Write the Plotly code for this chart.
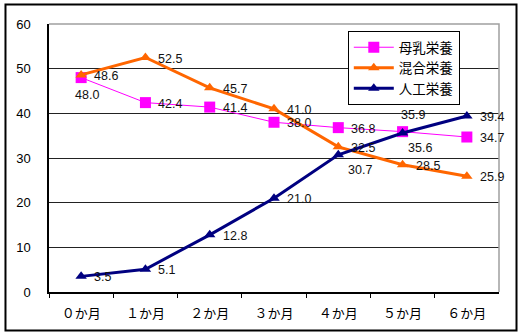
import plotly.graph_objects as go

# Feeding method ratios (%) by infant age
months = ["０か月", "１か月", "２か月", "３か月", "４か月", "５か月", "６か月"]
breast = [48.0, 42.4, 41.4, 38.0, 36.8, 35.9, 34.7]   # 母乳栄養
mixed = [48.6, 52.5, 45.7, 41.0, 32.5, 28.5, 25.9]    # 混合栄養
formula = [3.5, 5.1, 12.8, 21.0, 30.7, 35.6, 39.4]    # 人工栄養
y_ticks = [0, 10, 20, 30, 40, 50, 60]

NUM_FONT = "Liberation Sans, Arial, Noto Sans CJK JP"
JP_FONT = "Noto Sans CJK JP, Liberation Sans"

xs = list(range(len(months)))

fig = go.Figure()
fig.add_trace(go.Scatter(
    x=xs, y=breast, name="母乳栄養", mode="lines+markers",
    line=dict(color="#FF00FF", width=1),
    marker=dict(symbol="square", size=11, color="#FF00FF"),
))
fig.add_trace(go.Scatter(
    x=xs, y=mixed, name="混合栄養", mode="lines+markers",
    line=dict(color="#FF6600", width=3),
    marker=dict(symbol="triangle-up", size=10, color="#FF6600"),
))
fig.add_trace(go.Scatter(
    x=xs, y=formula, name="人工栄養", mode="lines+markers",
    line=dict(color="#000080", width=3),
    marker=dict(symbol="triangle-up", size=10, color="#000080"),
))

# Value labels: default sits to the right of the marker; a few are moved
# above/below to avoid overlapping neighbouring series.
special = {
    ("b", 0): dict(xanchor="center", xshift=6, yshift=-17),
    ("b", 5): dict(xanchor="center", xshift=10, yshift=17),
    ("f", 4): dict(xanchor="center", xshift=22, yshift=-15),
    ("f", 5): dict(xanchor="center", xshift=17, yshift=-15),
}
annotations = []
for key, series in (("b", breast), ("m", mixed), ("f", formula)):
    for i, v in enumerate(series):
        pos = special.get((key, i), dict(xanchor="left", xshift=11, yshift=-1))
        annotations.append(dict(
            x=i, y=v, xref="x", yref="y", text=f"{v:.1f}", showarrow=False,
            font=dict(family=NUM_FONT, size=12.5, color="#111"),
            yanchor="middle", **pos,
        ))

shapes = [
    # grey plot-area border on top and right
    dict(type="path", xref="paper", yref="paper",
         path="M 0,1 L 1,1 L 1,0", line=dict(color="#A0A0A0", width=1.5),
         layer="above"),
    # outer chart frame
    dict(type="rect", xref="paper", yref="paper",
         x0=-0.0967, x1=1.0389, y0=-0.1437, y1=1.0728,
         line=dict(color="black", width=2), layer="above"),
]

fig.update_layout(
    width=523, height=335,
    margin=dict(l=49, r=24, t=24, b=43),
    paper_bgcolor="white", plot_bgcolor="white",
    showlegend=True,
    legend=dict(
        x=0.664, y=0.974, xanchor="left", yanchor="top",
        bgcolor="white", bordercolor="black", borderwidth=1,
        font=dict(family=JP_FONT, size=13.5, color="black"),
        tracegroupgap=0, itemwidth=40,
    ),
    annotations=annotations,
    shapes=shapes,
    xaxis=dict(
        range=[-0.5, 6.5], tickvals=xs, ticktext=months,
        showgrid=False, zeroline=False,
        showline=True, linecolor="black", linewidth=1.5,
        ticks="", ticklabelstandoff=9,
        tickfont=dict(family=JP_FONT, size=13, color="black"),
        minor=dict(tickvals=[i + 0.5 for i in xs[:-1]] + [-0.5],
                   ticks="outside", ticklen=4, tickcolor="black",
                   showgrid=False),
    ),
    yaxis=dict(
        range=[0, 60], tickvals=y_ticks,
        showgrid=True, gridcolor="#222", gridwidth=1,
        zeroline=False, showline=True, linecolor="black", linewidth=1.5,
        ticks="", ticklabelstandoff=14,
        tickfont=dict(family=NUM_FONT, size=13, color="black"),
    ),
)

fig.write_html("out.html")
